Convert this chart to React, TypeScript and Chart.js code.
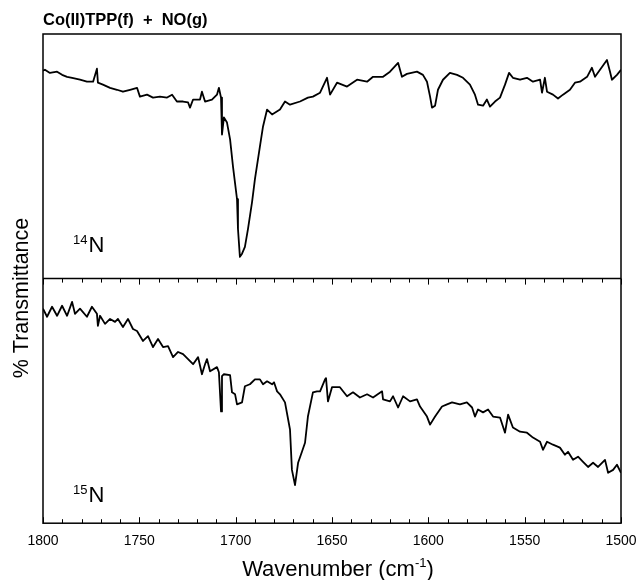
import React, { useEffect, useRef } from "react";
import { Chart, registerables } from "chart.js";

Chart.register(...registerables);

const TITLE = "Co(II)TPP(f)  +  NO(g)";
const X_TITLE_MAIN = "Wavenumber (cm";
const X_TITLE_SUP = "-1";
const X_TITLE_END = ")";
const Y_TITLE = "% Transmittance";
const X_MIN = 1500;
const X_MAX = 1800;
const X_TICK_STEP = 50;
const X_MINOR_STEP = 10;
const PANEL_MASS = ["14", "15"];
const PANEL_ELEMENT = ["N", "N"];

const topWavenumbers = [
  1800.0, 1799.0, 1796.4, 1792.7, 1790.1, 1787.5, 1784.9, 1780.8, 1777.2, 1774.0, 1772.0, 1771.5,
  1768.9, 1765.2, 1761.6, 1758.5, 1754.8, 1751.2, 1749.7, 1746.0, 1742.9, 1739.3, 1735.6, 1733.0,
  1730.5, 1727.3, 1724.7, 1723.7, 1722.1, 1718.5, 1717.5, 1715.9, 1712.3, 1709.7, 1708.7, 1707.6,
  1707.1, 1706.1, 1704.5, 1702.9, 1701.4, 1699.3, 1698.8, 1697.8, 1696.7, 1695.2, 1693.6, 1691.5,
  1690.0, 1687.4, 1685.8, 1683.7, 1681.1, 1677.0, 1674.4, 1671.8, 1666.6, 1662.5, 1659.9, 1656.2,
  1652.6, 1651.0, 1647.4, 1642.2, 1637.0, 1631.8, 1628.7, 1623.5, 1619.9, 1615.7, 1613.7, 1611.1,
  1605.9, 1602.8, 1600.7, 1599.1, 1598.1, 1596.5, 1595.0, 1592.4, 1588.8, 1585.1, 1582.0, 1578.4,
  1575.8, 1574.2, 1571.6, 1569.6, 1568.0, 1565.4, 1562.8, 1560.2, 1558.1, 1556.1, 1552.4, 1548.8,
  1545.7, 1542.0, 1541.0, 1539.5, 1538.4, 1535.3, 1532.7, 1530.1, 1526.5, 1523.9, 1521.3, 1517.6,
  1515.1, 1513.5, 1510.9, 1507.3, 1505.7, 1504.7, 1502.1, 1500.0,
];
const topTransmittance = [
  85.0, 85.4, 84.1, 84.6, 83.3, 82.5, 82.1, 81.3, 80.5, 80.5, 85.8, 80.1,
  79.3, 78.0, 77.2, 76.4, 77.2, 78.0, 74.4, 75.2, 74.0, 74.4, 74.0, 75.2,
  72.4, 72.4, 72.0, 69.9, 73.2, 73.2, 76.4, 72.4, 73.2, 75.2, 78.0, 74.0,
  58.9, 65.9, 63.8, 56.9, 45.9, 32.5, 20.3, 8.9, 10.2, 13.0, 20.3, 31.3,
  40.7, 54.1, 62.2, 69.1, 67.1, 69.1, 72.4, 71.1, 72.4, 74.0, 74.4, 76.0,
  82.1, 75.2, 80.1, 78.5, 81.3, 80.5, 82.5, 82.5, 84.6, 88.2, 82.5, 83.7,
  84.6, 83.3, 80.5, 74.4, 69.9, 70.7, 77.2, 81.3, 84.1, 83.3, 82.1, 79.3,
  75.2, 71.1, 70.7, 73.2, 70.3, 72.4, 74.0, 79.3, 84.1, 82.1, 81.3, 82.1,
  80.5, 81.3, 76.0, 82.1, 76.4, 75.2, 73.6, 75.2, 77.2, 80.1, 80.5, 82.5,
  86.2, 82.5, 85.4, 89.4, 84.6, 81.3, 83.3, 85.4,
];

const bottomWavenumbers = [
  1800.0, 1797.9, 1795.3, 1792.7, 1790.1, 1787.5, 1784.9, 1783.4, 1780.8, 1777.2, 1774.6, 1772.0,
  1771.5, 1770.4, 1767.8, 1765.2, 1762.6, 1761.1, 1758.5, 1755.9, 1753.3, 1751.2, 1748.1, 1745.5,
  1742.9, 1740.3, 1737.7, 1735.1, 1732.5, 1729.9, 1727.3, 1724.7, 1722.1, 1719.5, 1717.5, 1715.9,
  1714.9, 1713.3, 1709.7, 1708.7, 1707.6, 1707.1, 1706.1, 1702.9, 1701.9, 1700.3, 1699.3, 1696.7,
  1695.2, 1692.6, 1690.0, 1687.4, 1685.8, 1683.7, 1681.1, 1680.1, 1678.5, 1677.0, 1674.4, 1671.8,
  1670.8, 1669.2, 1667.6, 1665.6, 1664.0, 1662.5, 1659.9, 1657.8, 1656.2, 1653.6, 1653.1, 1652.1,
  1650.0, 1645.9, 1642.2, 1639.1, 1635.5, 1631.8, 1628.7, 1624.0, 1623.5, 1619.9, 1618.3, 1615.7,
  1613.1, 1609.5, 1605.9, 1604.3, 1600.7, 1599.1, 1596.5, 1592.9, 1590.3, 1587.7, 1583.6, 1580.0,
  1577.3, 1575.8, 1574.2, 1571.6, 1569.0, 1566.4, 1562.8, 1560.2, 1558.6, 1556.1, 1552.4, 1548.8,
  1545.7, 1542.0, 1540.5, 1538.4, 1535.3, 1531.7, 1529.1, 1527.5, 1524.9, 1522.3, 1519.7, 1517.1,
  1514.5, 1511.9, 1508.3, 1506.7, 1504.1, 1502.1, 1500.0,
];
const bottomTransmittance = [
  87.7, 84.4, 88.5, 84.8, 88.9, 84.8, 90.5, 85.6, 87.7, 84.4, 88.5, 85.6,
  80.7, 84.8, 81.5, 83.5, 82.3, 83.5, 80.2, 83.5, 79.4, 78.6, 74.5, 76.5,
  72.0, 75.3, 72.0, 72.4, 67.9, 70.0, 69.1, 67.1, 65.0, 67.9, 60.9, 65.0,
  67.1, 62.1, 63.8, 61.7, 45.7, 60.1, 60.9, 60.5, 53.5, 52.7, 48.6, 49.4,
  56.0, 56.8, 58.8, 58.8, 56.8, 58.0, 56.8, 57.6, 53.9, 52.7, 49.4, 38.3,
  21.8, 15.6, 24.7, 29.2, 32.9, 43.6, 53.5, 53.9, 53.9, 58.8, 59.3, 49.8,
  55.6, 55.6, 51.9, 53.5, 51.4, 52.7, 51.4, 53.9, 50.6, 49.8, 51.9, 47.3,
  51.9, 49.8, 50.6, 47.7, 43.6, 40.3, 43.6, 47.7, 48.6, 49.4, 48.6, 49.4,
  47.3, 43.6, 46.5, 45.3, 46.5, 43.6, 43.2, 37.0, 44.4, 39.1, 37.4, 37.0,
  35.0, 33.3, 30.0, 33.3, 32.1, 30.9, 28.0, 29.2, 25.9, 27.2, 25.1, 23.0,
  24.7, 23.0, 25.9, 20.6, 21.8, 23.9, 20.6,
];

const FONT = "'Liberation Sans', Arial, Helvetica, sans-serif";

const decorPlugin = {
  id: "spectrumDecor",
  afterDraw(chart: any) {
    const ctx = chart.ctx as CanvasRenderingContext2D;
    const area = chart.chartArea;
    const xs = chart.scales.x;
    const yTop = chart.scales.yTop;
    const yBot = chart.scales.yBot;
    const mid = yBot.top;
    ctx.save();
    ctx.strokeStyle = "#000";
    ctx.lineWidth = 1.5;
    ctx.strokeRect(area.left, area.top, area.right - area.left, area.bottom - area.top);
    ctx.beginPath();
    ctx.moveTo(area.left, mid);
    ctx.lineTo(area.right, mid);
    ctx.stroke();
    ctx.lineWidth = 1;
    ctx.beginPath();
    for (let v = X_MIN; v <= X_MAX; v += X_MINOR_STEP) {
      const px = Math.round(xs.getPixelForValue(v)) + 0.5;
      const major = v % X_TICK_STEP === 0;
      const len = major ? 6 : 4;
      ctx.moveTo(px, area.bottom);
      ctx.lineTo(px, area.bottom - len);
      ctx.moveTo(px, mid);
      ctx.lineTo(px, mid + len);
    }
    ctx.stroke();

    ctx.fillStyle = "#000";
    // title
    ctx.font = `bold 16.5px ${FONT}`;
    ctx.textAlign = "left";
    ctx.textBaseline = "alphabetic";
    ctx.fillText(TITLE, area.left, 25);

    // panel labels
    const panels = [yTop, yBot];
    const offsets = [27, 21];
    panels.forEach((sc: any, i: number) => {
      const base = sc.bottom - offsets[i];
      const x0 = area.left + 30;
      ctx.font = `13px ${FONT}`;
      ctx.textAlign = "left";
      ctx.fillText(PANEL_MASS[i], x0, base - 8);
      const w = ctx.measureText(PANEL_MASS[i]).width;
      ctx.font = `22px ${FONT}`;
      ctx.fillText(PANEL_ELEMENT[i], x0 + w + 1, base);
    });

    // y title
    ctx.save();
    ctx.translate(28, 298);
    ctx.rotate(-Math.PI / 2);
    ctx.font = `21.5px ${FONT}`;
    ctx.textAlign = "center";
    ctx.fillText(Y_TITLE, 0, 0);
    ctx.restore();

    // x title
    ctx.font = `22px ${FONT}`;
    const wMain = ctx.measureText(X_TITLE_MAIN).width;
    const wEnd = ctx.measureText(X_TITLE_END).width;
    ctx.font = `13px ${FONT}`;
    const wSup = ctx.measureText(X_TITLE_SUP).width;
    const total = wMain + wSup + wEnd;
    const cx = (area.left + area.right) / 2 + 6;
    let x = cx - total / 2;
    const baseY = 576;
    ctx.textAlign = "left";
    ctx.font = `22px ${FONT}`;
    ctx.fillText(X_TITLE_MAIN, x, baseY);
    x += wMain;
    ctx.font = `13px ${FONT}`;
    ctx.fillText(X_TITLE_SUP, x, baseY - 9);
    x += wSup;
    ctx.font = `22px ${FONT}`;
    ctx.fillText(X_TITLE_END, x, baseY);
    ctx.restore();
  },
};

export default function App() {
  const canvasRef = useRef<HTMLCanvasElement | null>(null);

  useEffect(() => {
    const canvas = canvasRef.current;
    if (!canvas) return;
    const toPoints = (xs: number[], ys: number[]) => xs.map((x, i) => ({ x, y: ys[i] }));
    const chart = new Chart(canvas, {
      type: "line",
      data: {
        datasets: [
          {
            label: "14N",
            data: toPoints(topWavenumbers, topTransmittance),
            yAxisID: "yTop",
            borderColor: "#000",
            borderWidth: 1.8,
            pointRadius: 0,
            tension: 0,
            borderJoinStyle: "round",
          },
          {
            label: "15N",
            data: toPoints(bottomWavenumbers, bottomTransmittance),
            yAxisID: "yBot",
            borderColor: "#000",
            borderWidth: 1.8,
            pointRadius: 0,
            tension: 0,
            borderJoinStyle: "round",
          },
        ],
      },
      options: {
        animation: false,
        responsive: true,
        maintainAspectRatio: false,
        parsing: false,
        layout: { padding: { left: 43, right: 20, top: 34, bottom: 20 } },
        plugins: { legend: { display: false }, tooltip: { enabled: false }, title: { display: false } },
        scales: {
          x: {
            type: "linear",
            reverse: true,
            min: X_MIN,
            max: X_MAX,
            grid: { display: false, drawTicks: false },
            border: { display: false },
            afterFit: (scale: any) => {
              scale.paddingLeft = 0;
              scale.paddingRight = 0;
            },
            ticks: {
              stepSize: X_TICK_STEP,
              autoSkip: false,
              maxRotation: 0,
              padding: 10,
              color: "#000",
              font: { family: FONT, size: 14 },
              callback: (v: any) => String(v),
            },
          },
          yBot: {
            type: "linear",
            position: "left",
            stack: "panels",
            stackWeight: 1,
            min: 0,
            max: 100,
            grid: { display: false, drawTicks: false },
            border: { display: false },
            ticks: { display: false },
          },
          yTop: {
            type: "linear",
            position: "left",
            stack: "panels",
            stackWeight: 1,
            min: 0,
            max: 100,
            grid: { display: false, drawTicks: false },
            border: { display: false },
            ticks: { display: false },
          },
        },
      },
      plugins: [decorPlugin],
    });
    return () => chart.destroy();
  }, []);

  return (
    <div style={{ position: "absolute", left: 0, top: 0, width: 641, height: 580, background: "#fff" }}>
      <canvas ref={canvasRef} />
    </div>
  );
}
